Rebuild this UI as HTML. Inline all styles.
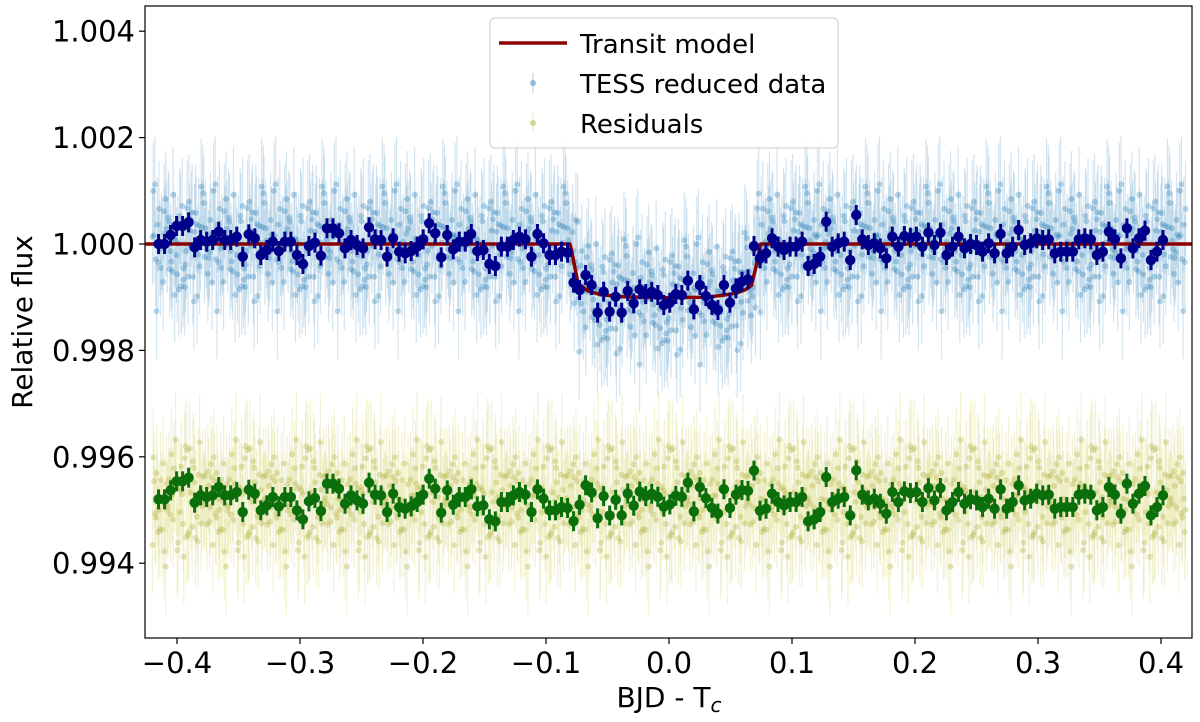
<!DOCTYPE html>
<html><head><meta charset="utf-8"><style>
html,body{margin:0;padding:0;background:#fff;}
svg{display:block;font-family:"DejaVu Sans","Liberation Sans",sans-serif;}
</style></head><body>
<svg id="chart" width="1200" height="722" viewBox="0 0 1200 722">
<g id="raw"></g>
<g id="binned"></g>
<g id="axes"></g>
</svg>
<script>
// ---- data (flux deviations in ppm, 1e-6) ----
const binStart = -0.415;
const binStep = 0.00489;
const binnedDev = [0,0,169,339,339,408,-63,75,44,75,232,75,75,138,-238,182,107,-207,-113,44,-132,44,44,-207,-376,-38,25,-219,295,295,201,-82,75,-19,-82,314,88,75,-238,107,-144,-176,-132,-50,88,389,201,-251,169,-100,44,44,188,-132,-113,-376,-414,-50,-50,75,138,88,-238,188,13,-207,-207,-144,-163,-727,-865,-583,-771,-1292,-897,-1273,-991,-1292,-884,-1116,-853,-941,-900,
-959,-1147,-1104,-941,-959,-690,-1229,-771,-978,-1147,-1241,-771,-1104,-834,-709,-665,-38,-270,-176,107,-50,-113,-50,-50,44,-414,-376,-238,420,-50,13,44,-301,545,88,-19,13,-82,-270,138,-50,150,119,138,-50,213,-19,213,-207,-50,138,-82,0,-19,-144,13,-176,188,-176,-50,263,-19,13,107,75,88,-176,-144,-144,-144,88,107,88,-207,-144,232,88,-270,295,-82,107,251,-301,-144,75];
const modelX = [-0.45,-0.0805,-0.079,-0.074,-0.066,-0.056,-0.04,-0.005,0.03,0.045,0.055,0.062,0.067,0.071,0.0745,0.45];
const modelDev = [0,0,-150,-740,-880,-950,-990,-1010,-1000,-960,-920,-860,-780,-400,0,0];
const rawNoise = [120,-430,610,-220,35,-780,340,910,-120,-560,270,-40,480,-890,150,-300,720,60,-650,390,-180,1020,-470,230,-90,560,-720,310,-260,840,-30,-510,180,650,-380,-1150,90,420,-240,770,-610,20,330,-870,540,-140,260,-420,980,-310,70,-560,410,-20,-740,290,600,-190,-980,160,450,-350,870,-80,-520,210,-660,380,-120,700,-410,10,530];
const xTicks = [-0.4,-0.3,-0.2,-0.1,0.0,0.1,0.2,0.3,0.4];
const xTickLabels = ["\u22120.4","\u22120.3","\u22120.2","\u22120.1","0.0","0.1","0.2","0.3","0.4"];
const yTicks = [0.994,0.996,0.998,1.000,1.002,1.004];
const yTickLabels = ["0.994","0.996","0.998","1.000","1.002","1.004"];
const residualLevel = 0.9952;
const rawCount = 1250;

// ---- scales ----
const L=145,R=1192,T=6,B=638;
const xs=v=>669+v*1230;
const ys=v=>244-(v-1)*53200;
const NS="http://www.w3.org/2000/svg";
function el(tag,attrs,parent){const e=document.createElementNS(NS,tag);for(const k in attrs)e.setAttribute(k,attrs[k]);parent.appendChild(e);return e;}
function model(x){
  if(x<=modelX[0])return modelDev[0];
  for(let i=1;i<modelX.length;i++){if(x<=modelX[i]){const t=(x-modelX[i-1])/(modelX[i]-modelX[i-1]);return modelDev[i-1]+t*(modelDev[i]-modelDev[i-1]);}}
  return modelDev[modelDev.length-1];
}
const raw=document.getElementById('raw'),bin=document.getElementById('binned'),ax=document.getElementById('axes');
const chart=document.getElementById('chart');
const defs=el('defs',{},chart);const cp=el('clipPath',{id:'clip'},defs);el('rect',{x:L,y:T,width:R-L,height:B-T},cp);
raw.setAttribute('clip-path','url(#clip)');bin.setAttribute('clip-path','url(#clip)');

// ---- raw data ----
const rawStart=-0.42,rawEnd=0.42;
function rawAt(i){
  const x=rawStart+(rawEnd-rawStart)*i/(rawCount-1);
  const n1=rawNoise[(i*7)%rawNoise.length]*1.1, n2=rawNoise[(i*11+5)%rawNoise.length]*1.1;
  return [x,1+(model(x)+n1)*1e-6,residualLevel+n2*1e-6];
}
for(let i=0;i<rawCount;i++){
  const [x,f,r]=rawAt(i);const px=xs(x);
  const eb=el('line',{x1:px,x2:px,y1:ys(f+0.0009),y2:ys(f-0.0009),stroke:'#1f77b4','stroke-opacity':0.2,'stroke-width':1.2},raw);
  
  
  const eb2=el('line',{x1:px,x2:px,y1:ys(r+0.0009),y2:ys(r-0.0009),stroke:'#bcbd22','stroke-opacity':0.2,'stroke-width':1.2},raw);
  
  
}
for(let i=0;i<rawCount;i++){
  const [x,f,r]=rawAt(i);
  const c=el('circle',{cx:xs(x),cy:ys(f),r:3,fill:'#1f77b4','fill-opacity':0.3},raw);
  
  
  const c2=el('circle',{cx:xs(x),cy:ys(r),r:3,fill:'#a8a830','fill-opacity':0.3},raw);
  
  
}
// ---- model ----
let d='';
for(let i=0;i<modelX.length;i++){d+=(i?'L':'M')+xs(modelX[i]).toFixed(2)+','+ys(1+modelDev[i]*1e-6).toFixed(2);}
const ml=el('path',{d:d,fill:'none',stroke:'#8b0000','stroke-width':3.5,'stroke-linejoin':'round'},bin);


// ---- binned ----
binnedDev.forEach((v,i)=>{
  const x=binStart+binStep*i, px=xs(x);
  const f=1+v*1e-6, r=residualLevel+(v-model(x))*1e-6;
  const e1=el('line',{x1:px,x2:px,y1:ys(f)-10,y2:ys(f)+10,stroke:'#00008b','stroke-width':3},bin);
  
  
  const c=el('circle',{cx:px,cy:ys(f),r:5.2,fill:'#00008b'},bin);
  
  
  const e2=el('line',{x1:px,x2:px,y1:ys(r)-10,y2:ys(r)+10,stroke:'#0a6e0a','stroke-width':3},bin);
  
  
  const c2=el('circle',{cx:px,cy:ys(r),r:5.2,fill:'#0a6e0a'},bin);
  
  
});
// ---- axes ----
const frame=el('rect',{x:L,y:T,width:R-L,height:B-T,fill:'none',stroke:'#000','stroke-width':1.2},ax);


xTicks.forEach((v,i)=>{
  const px=xs(v);
  const t=el('line',{x1:px,x2:px,y1:B,y2:B+6,stroke:'#000','stroke-width':1.2},ax);
  
  
  const lb=el('text',{x:px,y:673,'text-anchor':'middle','font-size':'29px',fill:'#000'},ax);
  lb.textContent=xTickLabels[i];
  
  
});
yTicks.forEach((v,i)=>{
  const py=ys(v);
  const t=el('line',{x1:L-6,x2:L,y1:py,y2:py,stroke:'#000','stroke-width':1.2},ax);
  
  
  const lb=el('text',{x:L-10,y:py+10.5,'text-anchor':'end','font-size':'29px',fill:'#000'},ax);
  lb.textContent=yTickLabels[i];
  
  
});
const xt=el('text',{x:669,y:707,'text-anchor':'middle','font-size':'28px'},ax);
xt.innerHTML='BJD - T<tspan font-size="20px" font-style="italic" dy="5">c</tspan>';


const yt=el('text',{x:0,y:0,'text-anchor':'middle','font-size':'28px',transform:'translate(32,322) rotate(-90)'},ax);
yt.textContent='Relative flux';


// ---- legend ----
const lg=el('g',{},ax);


el('rect',{x:490,y:18,width:348,height:130,rx:5,fill:'#fff','fill-opacity':0.85,stroke:'#ccc','stroke-width':1},lg);
const items=[['Transit model',43,'line'],['TESS reduced data',83,'blue'],['Residuals',123,'olive']];
items.forEach(([txt,y,k])=>{
  const g=el('g',{},lg);
  
  
  if(k==='line')el('line',{x1:499,x2:567,y1:y,y2:y,stroke:'#8b0000','stroke-width':3.5},g);
  else{el('line',{x1:533,x2:533,y1:y-10,y2:y+10,stroke:k==='blue'?'#1f77b4':'#bcbd22','stroke-opacity':0.3,'stroke-width':1.2},g);
       el('circle',{cx:533,cy:y,r:3,fill:k==='blue'?'#1f77b4':'#a8a830','fill-opacity':0.45},g);}
  const t=el('text',{x:580,y:y+10,'font-size':'26px'},g);t.textContent=txt;
});
</script>
</body></html>
